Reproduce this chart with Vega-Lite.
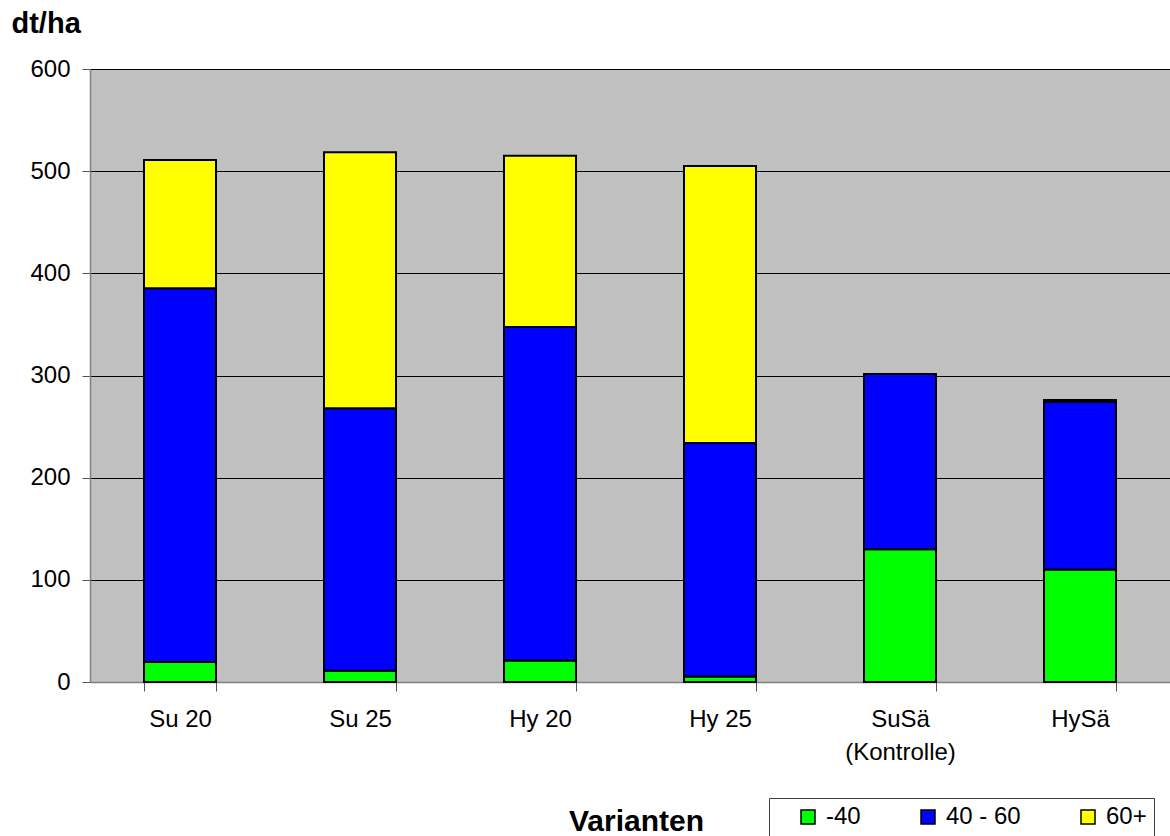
{
  "$schema": "https://vega.github.io/schema/vega-lite/v6.json",
  "width": 1080,
  "height": 613,
  "autosize": {"type": "none"},
  "padding": {"left": 90, "top": 69, "right": 0, "bottom": 154},
  "background": "white",
  "config": {
    "view": {"stroke": null, "fill": "#C0C0C0"},
    "font": "Liberation Sans"
  },
  "data": {
    "values": [
      {"v": "Su 20", "k": "-40", "o": 1, "y": 19.5},
      {"v": "Su 20", "k": "40 - 60", "o": 2, "y": 366},
      {"v": "Su 20", "k": "60+", "o": 3, "y": 125.5},
      {"v": "Su 25", "k": "-40", "o": 1, "y": 11},
      {"v": "Su 25", "k": "40 - 60", "o": 2, "y": 257},
      {"v": "Su 25", "k": "60+", "o": 3, "y": 250.5},
      {"v": "Hy 20", "k": "-40", "o": 1, "y": 21},
      {"v": "Hy 20", "k": "40 - 60", "o": 2, "y": 326.5},
      {"v": "Hy 20", "k": "60+", "o": 3, "y": 167.5},
      {"v": "Hy 25", "k": "-40", "o": 1, "y": 5.5},
      {"v": "Hy 25", "k": "40 - 60", "o": 2, "y": 228.5},
      {"v": "Hy 25", "k": "60+", "o": 3, "y": 271},
      {"v": "SuSä (Kontrolle)", "k": "-40", "o": 1, "y": 130},
      {"v": "SuSä (Kontrolle)", "k": "40 - 60", "o": 2, "y": 171.5},
      {"v": "SuSä (Kontrolle)", "k": "60+", "o": 3, "y": 0},
      {"v": "HySä", "k": "-40", "o": 1, "y": 110},
      {"v": "HySä", "k": "40 - 60", "o": 2, "y": 164},
      {"v": "HySä", "k": "60+", "o": 3, "y": 2}
    ]
  },
  "mark": {"type": "bar", "stroke": "black", "strokeWidth": 2},
  "encoding": {
    "x": {
      "field": "v",
      "type": "nominal",
      "sort": null,
      "scale": {"paddingInner": 0.6, "paddingOuter": 0.3},
      "axis": {
        "title": "Varianten",
        "titleFont": "Liberation Sans",
        "titleFontSize": 30,
        "titleFontWeight": "bold",
        "titleColor": "black",
        "titleX": 546,
        "titleY": 148,
        "titleAlign": "center",
        "titleBaseline": "alphabetic",
        "labelAngle": 0,
        "labelFontSize": 24,
        "labelColor": "black",
        "labelBaseline": "alphabetic",
        "labelPadding": 35,
        "labelLineHeight": 33,
        "labelExpr": "datum.value == 'SuSä (Kontrolle)' ? ['SuSä', '(Kontrolle)'] : datum.value",
        "tickBand": "extent",
        "tickSize": 9,
        "tickColor": "#555555",
        "domainColor": "#808080",
        "domainWidth": 1.5,
        "grid": false
      }
    },
    "y": {
      "field": "y",
      "type": "quantitative",
      "stack": "zero",
      "scale": {"domain": [0, 600], "nice": false},
      "axis": {
        "title": "dt/ha",
        "titleFont": "Liberation Sans",
        "titleFontSize": 29,
        "titleFontWeight": "bold",
        "titleColor": "black",
        "titleAngle": 0,
        "titleX": -79,
        "titleY": -37,
        "titleAlign": "left",
        "titleBaseline": "alphabetic",
        "values": [0, 100, 200, 300, 400, 500, 600],
        "labelFontSize": 24,
        "labelColor": "black",
        "labelPadding": 12,
        "tickSize": 8,
        "tickColor": "#555555",
        "domainColor": "#808080",
        "domainWidth": 1.5,
        "grid": true,
        "gridColor": "black",
        "gridWidth": 1
      }
    },
    "color": {
      "field": "k",
      "type": "nominal",
      "scale": {"domain": ["-40", "40 - 60", "60+"], "range": ["#00FF00", "#0000FF", "#FFFF00"]},
      "legend": {
        "orient": "none",
        "direction": "horizontal",
        "legendX": 679,
        "legendY": 729,
        "title": " ",
        "titleOrient": "left",
        "titleFontSize": 1,
        "titlePadding": 20,
        "padding": 7,
        "strokeColor": "#404040",
        "fillColor": "white",
        "symbolType": "square",
        "symbolSize": 196,
        "symbolStrokeColor": "black",
        "symbolStrokeWidth": 1.5,
        "symbolOpacity": 1,
        "labelFontSize": 24,
        "labelColor": "black",
        "labelOffset": 6,
        "columnPadding": 55,
        "labelLimit": 300
      }
    },
    "order": {"field": "o", "type": "quantitative"}
  }
}
